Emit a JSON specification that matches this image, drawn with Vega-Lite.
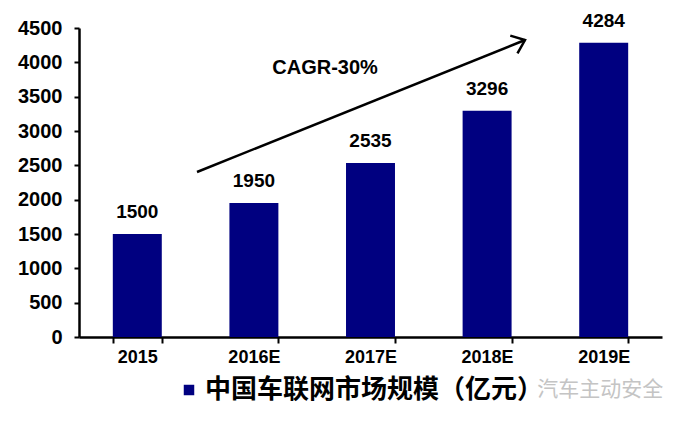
{
  "$schema": "https://vega.github.io/schema/vega-lite/v6.json",
  "autosize": {"type": "none"},
  "width": 583,
  "height": 309,
  "padding": {"left": 79, "top": 28, "right": 14, "bottom": 87},
  "background": "white",
  "config": {
    "view": {"stroke": null},
    "font": "Liberation Sans"
  },
  "datasets": {
    "bars": [
      {"year": "2015", "value": 1500, "series": "中国车联网市场规模（亿元）"},
      {"year": "2016E", "value": 1950, "series": "中国车联网市场规模（亿元）"},
      {"year": "2017E", "value": 2535, "series": "中国车联网市场规模（亿元）"},
      {"year": "2018E", "value": 3296, "series": "中国车联网市场规模（亿元）"},
      {"year": "2019E", "value": 4284, "series": "中国车联网市场规模（亿元）"}
    ],
    "arrow": [{"x": 1.012, "y": 2403, "x2": 3.825, "y2": 4325}],
    "notes": [
      {"x": 2.11, "y": 3917, "label": "CAGR-30%"}
    ],
    "wm": [
      {"x": 4.47, "y": -772, "label": "汽车主动安全"}
    ]
  },
  "layer": [
    {
      "data": {"name": "bars"},
      "mark": {"type": "bar", "color": "#000080"},
      "encoding": {
        "x": {
          "field": "year", "type": "nominal", "sort": null,
          "scale": {"paddingInner": 0.58, "paddingOuter": 0.29},
          "axis": {
            "title": null, "labelAngle": 0, "domainColor": "black", "domainWidth": 2.5,
            "tickColor": "black", "tickWidth": 2, "tickSize": 6, "tickBand": "extent",
            "labelFont": "Liberation Sans", "labelFontWeight": "bold", "labelFontSize": 18,
            "labelColor": "black", "labelPadding": 5, "grid": false
          }
        },
        "y": {
          "field": "value", "type": "quantitative",
          "scale": {"domain": [0, 4500], "nice": false},
          "axis": {
            "title": null, "values": [0, 500, 1000, 1500, 2000, 2500, 3000, 3500, 4000, 4500],
            "format": "d",
            "domainColor": "black", "domainWidth": 2.5,
            "tickColor": "black", "tickWidth": 2, "tickSize": 5,
            "labelFont": "Liberation Sans", "labelFontWeight": "bold", "labelFontSize": 20,
            "labelColor": "black", "labelPadding": 12, "grid": false
          }
        },
        "color": {
          "field": "series", "type": "nominal",
          "scale": {"range": ["#000080"]},
          "legend": {
            "title": null, "orient": "none", "legendX": 97, "legendY": 349,
            "direction": "horizontal", "padding": 0,
            "symbolType": "square", "symbolSize": 110, "symbolStrokeWidth": 0,
            "labelFont": "Noto Sans CJK SC", "labelFontSize": 26, "labelFontWeight": "bold",
            "labelColor": "black", "labelOffset": 3, "labelLimit": 0
          }
        }
      }
    },
    {
      "data": {"name": "bars"},
      "mark": {"type": "text", "baseline": "alphabetic", "dy": -16, "font": "Liberation Sans", "fontWeight": "bold", "fontSize": 19, "color": "black"},
      "encoding": {
        "x": {"field": "year", "type": "nominal", "sort": null, "scale": {"paddingInner": 0.58, "paddingOuter": 0.29}, "axis": null},
        "y": {"field": "value", "type": "quantitative", "scale": {"domain": [0, 4500], "nice": false}, "axis": null},
        "text": {"field": "value", "type": "quantitative", "format": "d"}
      }
    },
    {
      "data": {"name": "arrow"},
      "mark": {"type": "rule", "color": "black", "strokeWidth": 2.5},
      "encoding": {
        "x": {"field": "x", "type": "quantitative", "scale": {"domain": [0, 5], "nice": false}, "axis": null},
        "y": {"field": "y", "type": "quantitative", "scale": {"domain": [0, 4500], "nice": false}, "axis": null},
        "x2": {"field": "x2"},
        "y2": {"field": "y2"}
      }
    },
    {
      "data": {"name": "arrow"},
      "mark": {"type": "point", "shape": "M-1,-0.8L0,0L-1,0.8", "filled": false, "stroke": "black", "strokeWidth": 2.5, "size": 576, "angle": -22, "opacity": 1},
      "encoding": {
        "x": {"field": "x2", "type": "quantitative", "scale": {"domain": [0, 5], "nice": false}, "axis": null},
        "y": {"field": "y2", "type": "quantitative", "scale": {"domain": [0, 4500], "nice": false}, "axis": null}
      }
    },
    {
      "data": {"name": "notes"},
      "mark": {"type": "text", "font": "Liberation Sans", "fontWeight": "bold", "fontSize": 20, "color": "black", "baseline": "middle"},
      "encoding": {
        "x": {"field": "x", "type": "quantitative", "scale": {"domain": [0, 5], "nice": false}, "axis": null},
        "y": {"field": "y", "type": "quantitative", "scale": {"domain": [0, 4500], "nice": false}, "axis": null},
        "text": {"field": "label"}
      }
    },
    {
      "data": {"name": "wm"},
      "mark": {"type": "text", "font": "Noto Sans CJK SC", "fontSize": 21, "color": "#c4c4c4", "baseline": "middle", "clip": false},
      "encoding": {
        "x": {"field": "x", "type": "quantitative", "scale": {"domain": [0, 5], "nice": false}, "axis": null},
        "y": {"field": "y", "type": "quantitative", "scale": {"domain": [0, 4500], "nice": false}, "axis": null},
        "text": {"field": "label"}
      }
    }
  ],
  "resolve": {"scale": {"x": "independent"}, "axis": {"y": "independent"}}
}
